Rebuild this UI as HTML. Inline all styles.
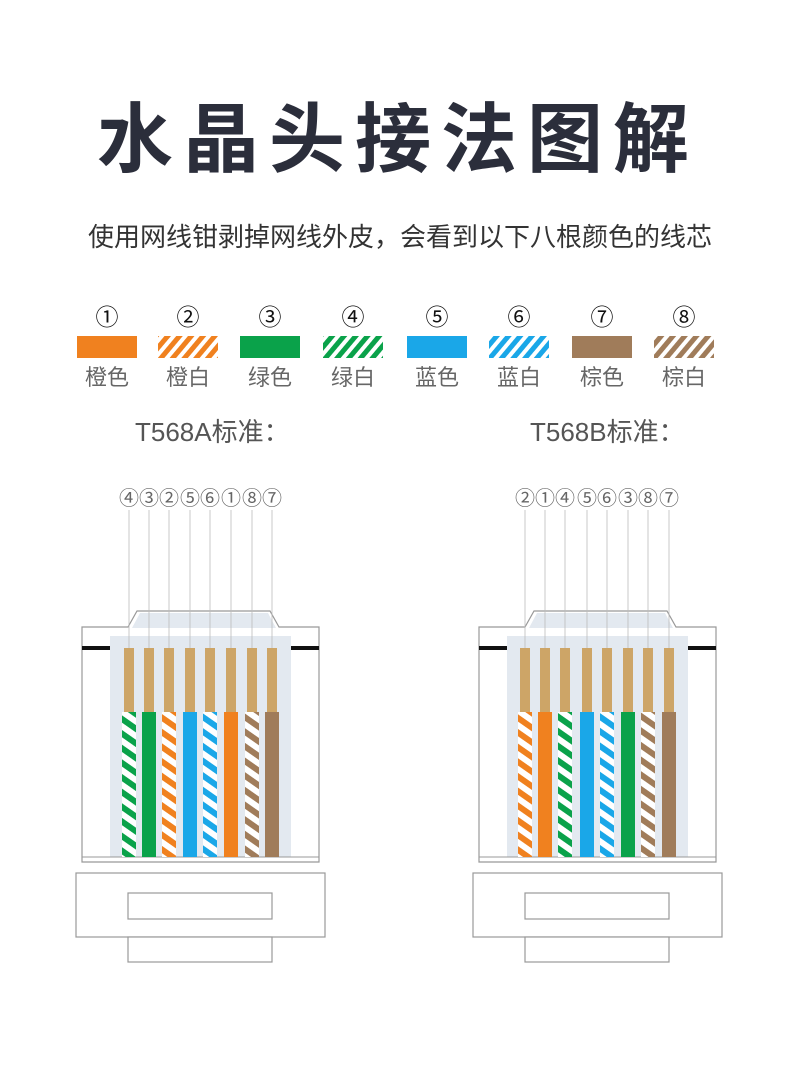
<!DOCTYPE html>
<html><head><meta charset="utf-8"><style>
body{margin:0;background:#fff;width:800px;height:1065px;overflow:hidden;}
svg text{font-family:"Liberation Sans","Noto Sans CJK SC",sans-serif;}
</style></head><body>
<svg width="800" height="1065" viewBox="0 0 800 1065" xmlns="http://www.w3.org/2000/svg">
<defs>
<pattern id="pO" patternUnits="userSpaceOnUse" width="12" height="12" patternTransform="rotate(35)"><rect width="12" height="12" fill="#fff"/><rect width="12" height="6" fill="#f0811f"/></pattern>
<pattern id="pG" patternUnits="userSpaceOnUse" width="12" height="12" patternTransform="rotate(35)"><rect width="12" height="12" fill="#fff"/><rect width="12" height="6" fill="#0aa24a"/></pattern>
<pattern id="pB" patternUnits="userSpaceOnUse" width="12" height="12" patternTransform="rotate(35)"><rect width="12" height="12" fill="#fff"/><rect width="12" height="6" fill="#1aa7e8"/></pattern>
<pattern id="pN" patternUnits="userSpaceOnUse" width="12" height="12" patternTransform="rotate(35)"><rect width="12" height="12" fill="#fff"/><rect width="12" height="6" fill="#a07c5a"/></pattern>
<pattern id="lO" patternUnits="userSpaceOnUse" width="9" height="9" patternTransform="rotate(40)"><rect width="9" height="9" fill="#fff"/><rect width="5" height="9" fill="#f0811f"/></pattern>
<pattern id="lG" patternUnits="userSpaceOnUse" width="9" height="9" patternTransform="rotate(40)"><rect width="9" height="9" fill="#fff"/><rect width="5" height="9" fill="#0aa24a"/></pattern>
<pattern id="lB" patternUnits="userSpaceOnUse" width="9" height="9" patternTransform="rotate(40)"><rect width="9" height="9" fill="#fff"/><rect width="5" height="9" fill="#1aa7e8"/></pattern>
<pattern id="lN" patternUnits="userSpaceOnUse" width="9" height="9" patternTransform="rotate(40)"><rect width="9" height="9" fill="#fff"/><rect width="5" height="9" fill="#a07c5a"/></pattern>
<g id="body">
<path d="M82,627 H128 L137,611 H270 L279,627 H319 V862 H82 Z" fill="#fff" stroke="#999" stroke-width="1.2"/>
<path d="M140,613 H268 L276,628 H132 Z" fill="#e3e9f0"/>
<rect x="110" y="636" width="181" height="221" fill="#e3e9f0"/>
<rect x="82" y="646" width="28" height="4" fill="#111"/>
<rect x="291" y="646" width="28" height="4" fill="#111"/>
<line x1="82" y1="857" x2="319" y2="857" stroke="#999" stroke-width="1"/>
<rect x="76" y="873" width="249" height="64" fill="#fff" stroke="#999" stroke-width="1.2"/>
<rect x="128" y="893" width="144" height="26" fill="#fff" stroke="#999" stroke-width="1.2"/>
<rect x="128" y="937" width="144" height="25" fill="#fff" stroke="#999" stroke-width="1.2"/>
</g>
</defs>
<text x="398" y="166" font-size="76" font-weight="bold" fill="#2b2e3b" text-anchor="middle" letter-spacing="10">水晶头接法图解</text>
<text x="400" y="246" font-size="26" fill="#333" text-anchor="middle">使用网线钳剥掉网线外皮，会看到以下八根颜色的线芯</text>
<g font-size="23" fill="#111" text-anchor="middle">
<text x="107" y="325">①</text><text x="188" y="325">②</text><text x="270" y="325">③</text><text x="353" y="325">④</text><text x="437" y="325">⑤</text><text x="519" y="325">⑥</text><text x="602" y="325">⑦</text><text x="684" y="325">⑧</text>
</g>
<rect x="77" y="336" width="60" height="22" fill="#f0811f"/>
<rect x="158" y="336" width="60" height="22" fill="url(#lO)"/>
<rect x="240" y="336" width="60" height="22" fill="#0aa24a"/>
<rect x="323" y="336" width="60" height="22" fill="url(#lG)"/>
<rect x="407" y="336" width="60" height="22" fill="#1aa7e8"/>
<rect x="489" y="336" width="60" height="22" fill="url(#lB)"/>
<rect x="572" y="336" width="60" height="22" fill="#a07c5a"/>
<rect x="654" y="336" width="60" height="22" fill="url(#lN)"/>
<g font-size="22" fill="#666" text-anchor="middle">
<text x="107" y="385">橙色</text><text x="188" y="385">橙白</text><text x="270" y="385">绿色</text><text x="353" y="385">绿白</text><text x="437" y="385">蓝色</text><text x="519" y="385">蓝白</text><text x="602" y="385">棕色</text><text x="684" y="385">棕白</text>
</g>
<text x="135" y="441" font-size="26" fill="#555">T568A标准：</text>
<text x="530" y="441" font-size="26" fill="#555">T568B标准：</text>

<use href="#body"/>
<use href="#body" transform="translate(397,0)"/>

<g font-size="20" fill="#666" text-anchor="middle">
<text x="129" y="505">④</text><text x="149" y="505">③</text><text x="169" y="505">②</text><text x="190" y="505">⑤</text><text x="210" y="505">⑥</text><text x="231" y="505">①</text><text x="252" y="505">⑧</text><text x="272" y="505">⑦</text>
<text x="525" y="505">②</text><text x="545" y="505">①</text><text x="565" y="505">④</text><text x="587" y="505">⑤</text><text x="607" y="505">⑥</text><text x="628" y="505">③</text><text x="648" y="505">⑧</text><text x="669" y="505">⑦</text>
</g>
<g stroke="#bbb" stroke-width="0.8">
<line x1="129" y1="510" x2="129" y2="648"/><line x1="149" y1="510" x2="149" y2="648"/><line x1="169" y1="510" x2="169" y2="648"/><line x1="190" y1="510" x2="190" y2="648"/><line x1="210" y1="510" x2="210" y2="648"/><line x1="231" y1="510" x2="231" y2="648"/><line x1="252" y1="510" x2="252" y2="648"/><line x1="272" y1="510" x2="272" y2="648"/>
<line x1="525" y1="510" x2="525" y2="648"/><line x1="545" y1="510" x2="545" y2="648"/><line x1="565" y1="510" x2="565" y2="648"/><line x1="587" y1="510" x2="587" y2="648"/><line x1="607" y1="510" x2="607" y2="648"/><line x1="628" y1="510" x2="628" y2="648"/><line x1="648" y1="510" x2="648" y2="648"/><line x1="669" y1="510" x2="669" y2="648"/>
</g>
<g fill="#cda567">
<rect x="124" y="648" width="10" height="65"/><rect x="144" y="648" width="10" height="65"/><rect x="164" y="648" width="10" height="65"/><rect x="185" y="648" width="10" height="65"/><rect x="205" y="648" width="10" height="65"/><rect x="226" y="648" width="10" height="65"/><rect x="247" y="648" width="10" height="65"/><rect x="267" y="648" width="10" height="65"/>
<rect x="520" y="648" width="10" height="65"/><rect x="540" y="648" width="10" height="65"/><rect x="560" y="648" width="10" height="65"/><rect x="582" y="648" width="10" height="65"/><rect x="602" y="648" width="10" height="65"/><rect x="623" y="648" width="10" height="65"/><rect x="643" y="648" width="10" height="65"/><rect x="664" y="648" width="10" height="65"/>
</g>
<g>
<rect x="122" y="712" width="14" height="145" fill="url(#pG)"/>
<rect x="142" y="712" width="14" height="145" fill="#0aa24a"/>
<rect x="162" y="712" width="14" height="145" fill="url(#pO)"/>
<rect x="183" y="712" width="14" height="145" fill="#1aa7e8"/>
<rect x="203" y="712" width="14" height="145" fill="url(#pB)"/>
<rect x="224" y="712" width="14" height="145" fill="#f0811f"/>
<rect x="245" y="712" width="14" height="145" fill="url(#pN)"/>
<rect x="265" y="712" width="14" height="145" fill="#a07c5a"/>
<rect x="518" y="712" width="14" height="145" fill="url(#pO)"/>
<rect x="538" y="712" width="14" height="145" fill="#f0811f"/>
<rect x="558" y="712" width="14" height="145" fill="url(#pG)"/>
<rect x="580" y="712" width="14" height="145" fill="#1aa7e8"/>
<rect x="600" y="712" width="14" height="145" fill="url(#pB)"/>
<rect x="621" y="712" width="14" height="145" fill="#0aa24a"/>
<rect x="641" y="712" width="14" height="145" fill="url(#pN)"/>
<rect x="662" y="712" width="14" height="145" fill="#a07c5a"/>
</g>
</svg>
</body></html>
